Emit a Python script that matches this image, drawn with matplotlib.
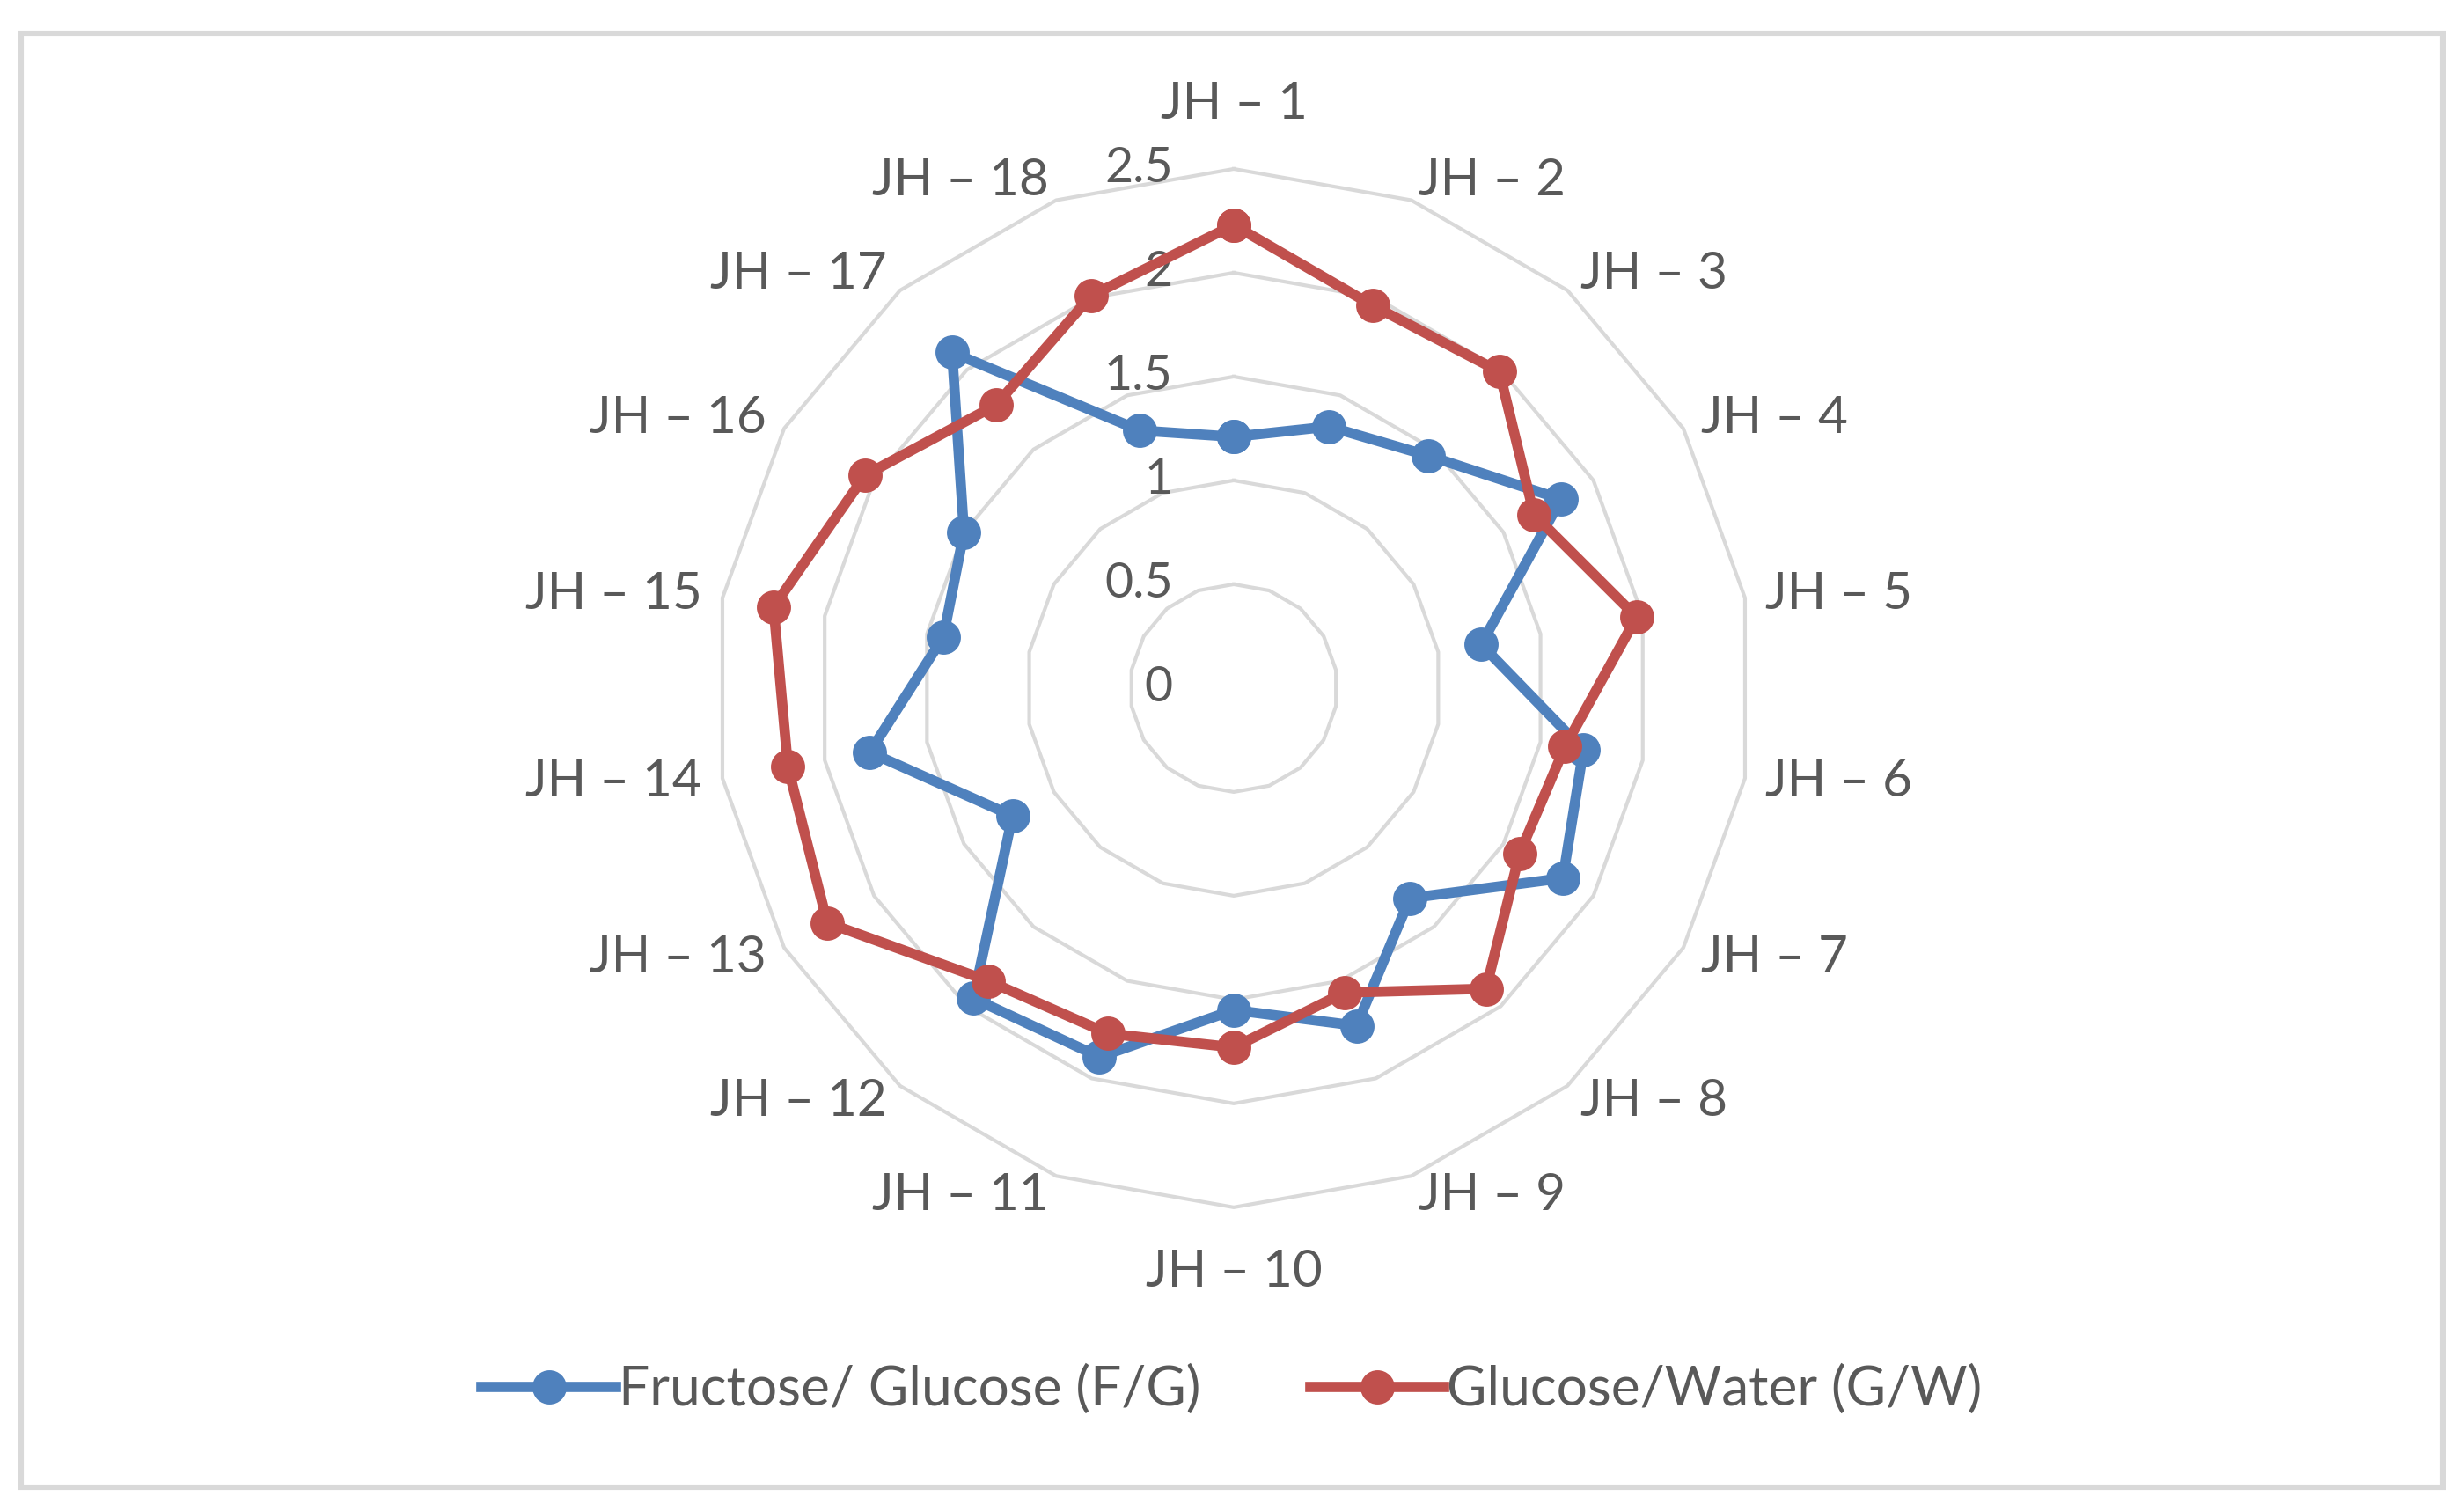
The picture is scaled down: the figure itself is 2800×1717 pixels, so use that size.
import numpy as np
import matplotlib.pyplot as plt
from matplotlib.patches import Rectangle

plt.rcParams['font.family'] = ['Lato', 'DejaVu Sans']

# ------------------------------------------------------------------ data ---
categories = [f"JH \u2013 {i}" for i in range(1, 19)]
fructose_glucose = [1.21, 1.34, 1.46, 1.82, 1.21, 1.71, 1.83, 1.32, 1.73,
                    1.55, 1.89, 1.95, 1.23, 1.78, 1.42, 1.50, 2.11, 1.32]
glucose_water = [2.23, 1.96, 1.99, 1.67, 1.97, 1.62, 1.59, 1.89, 1.56,
                 1.73, 1.77, 1.84, 2.26, 2.18, 2.25, 2.05, 1.78, 2.01]
ring_values = [0.5, 1.0, 1.5, 2.0, 2.5]
tick_labels = ["0", "0.5", "1", "1.5", "2", "2.5"]

BLUE = "#4F81BD"
RED = "#C0504D"
GRID = "#D9D9D9"
TEXT = "#595959"

# ----------------------------------------------------------------- figure ---
fig = plt.figure(figsize=(14, 8.585), dpi=200)
fig.patches.append(Rectangle((0.0085, 0.016), 0.983, 0.962, transform=fig.transFigure,
                             fill=False, edgecolor=GRID, linewidth=2.2))

ax = fig.add_axes([0.290, 0.201, 0.4214, 0.6872], projection="polar")
ax.set_theta_zero_location("N")
ax.set_theta_direction(-1)
ax.set_ylim(0, 2.5)
ax.grid(False)
ax.spines["polar"].set_visible(False)
ax.set_xticks([])
ax.set_yticks([])

n = len(categories)
theta = np.linspace(0, 2 * np.pi, n, endpoint=False)
theta_c = np.append(theta, theta[0])

# polygonal gridlines
for r in ring_values:
    ax.plot(theta_c, [r] * (n + 1), color=GRID, lw=1.5, zorder=1, clip_on=False)

# radial value labels, left of the top spoke
for val, lab in zip([0.0] + ring_values, tick_labels):
    ax.annotate(lab, xy=(0, val), xytext=(-25, 0), textcoords="offset points",
                ha="right", va="center", fontsize=20, color=TEXT)

# category labels
for ang, lab in zip(theta, categories):
    s, c = np.sin(ang), np.cos(ang)
    if abs(s) < 1e-6:
        ha, r_lab = "center", 2.7
        va = "bottom" if c > 0 else "top"
    else:
        ha = "left" if s > 0 else "right"
        va, r_lab = "center", 2.6
    ax.text(ang, r_lab, lab, ha=ha, va=va, fontsize=21, color=TEXT)

# series
series = [(fructose_glucose, BLUE, "Fructose/ Glucose (F/G)"),
          (glucose_water, RED, "Glucose/Water (G/W)")]
for vals, col, lab in series:
    ax.plot(theta_c, list(vals) + [vals[0]], color=col, lw=4.2, marker="o",
            markersize=13, label=lab, zorder=3, clip_on=False)

fig.legend(loc="center", bbox_to_anchor=(0.5, 0.08), ncol=2, frameon=False,
           fontsize=22.4, labelcolor=TEXT, handlelength=2.45, handletextpad=0.05,
           columnspacing=2.0)

fig.savefig("out.png", dpi=200)
